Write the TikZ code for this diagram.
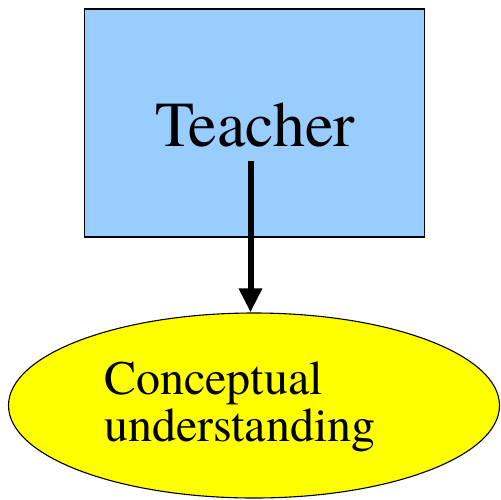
\documentclass[tikz,border=0pt]{standalone}
\usepackage{fontspec}
\newfontfamily\tmsfont{texgyretermes-regular.otf}
\usetikzlibrary{shapes.geometric,arrows.meta}
\definecolor{boxblue}{RGB}{153,204,255}
\definecolor{ellyellow}{RGB}{255,255,0}
\begin{document}
\begin{tikzpicture}[x=1pt,y=-1pt,
  boxstyle/.style={draw=black,line width=1.3pt,fill=boxblue,minimum width=340pt,minimum height=228pt,inner sep=0pt},
  ellstyle/.style={ellipse,draw=black,line width=1.1pt,fill=ellyellow,minimum width=491pt,minimum height=185pt,inner sep=0pt},
  conn/.style={line width=6pt,-{Triangle[length=24pt,width=22pt]}}]
\useasboundingbox (0,0) rectangle (501,499);
\node[boxstyle] (teacher) at (254.5,123) {};
\node[font=\tmsfont\fontsize{64}{64}\selectfont,anchor=base] (tlabel) at (255,146) {Teacher};
\node[ellstyle] (concept) at (254,405.5) {};
\node[font=\tmsfont\fontsize{48}{47}\selectfont,align=left,anchor=north west,inner sep=0pt] (clabel) at (104,362) {Conceptual\\understanding};
\coordinate (start) at (250.5,161);
\draw[conn] (start) -- (concept.north -| start);
\end{tikzpicture}
\end{document}
